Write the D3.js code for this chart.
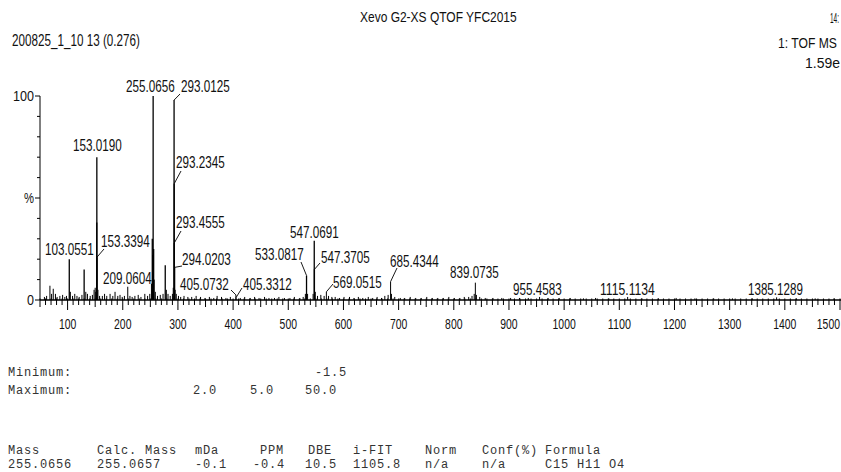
<!DOCTYPE html>
<html><head><meta charset="utf-8">
<script src="https://cdn.jsdelivr.net/npm/d3@7"></script>
<style>body{margin:0;background:#fff;overflow:hidden}svg{display:block}</style>
</head><body><svg id="c" width="841" height="472"></svg>
<script>
// ---------- DATA ----------
// spectrum peaks: [m/z, relative intensity %]
const peaks = [
 [58,1.5],[62,2],[68,7],[71,3],[74,5.5],[78,3],[81,1.5],[86,2],[91,2.5],[95,1.5],[98,2],
 [103.0551,20],[105,4],[109,2],[113,3],[117,2],[121,1.5],[126,2.5],[130,15],[133,4],[136,3],
 [141,2],[145,2.5],[148,5],[150,6],[151,4],[152.9,38],[153.0190,70],[153.3394,21],[155,5],
 [158,2],[163,2],[167,3],[171,2],[177,3],[182,2],[186,4],[191,2],[195,2.5],[199,1.5],[203,2],
 [209.0604,6.5],[213,2],[217,1.5],[222,2],[228,2.5],[233,1.5],[240,3],[245,2],[249,3],[252,8],
 [253.5,30],[254.2,22],[255.0656,100],[256,25],[257,10],[259,4],[263,2],[268,2.5],[273,3],
 [277,17],[279,5],[282,3],[286,2],[290,3],[291.5,6],[293.0125,98],[293.2345,57],[293.4555,28],
 [294.0203,16],[295,5],[297,3],[301,2],[305,1.5],[311,2],[318,1.5],[325,1.5],[333,2],[341,1.5],
 [349,1],[357,1.5],[365,1],[371,2],[379,1.5],[387,1],[395,1.5],[405.0732,2.5],[405.3312,1.2],
 [413,1],[421,1.5],[431,1],[439,1.5],[447,1],[457,1.5],[465,1],[475,1],[483,1.5],[493,1],
 [503,1],[511,1.5],[521,1],[527,1.5],[531,3],[533.0817,12],[535,3],[545,3],[547.0691,29],
 [547.3705,15],[549,4],[553,2],[559,2.5],[565,2],[569.0515,4],[573,2],[579,1.5],[585,1.5],
 [593,1],[601,1.5],[611,1.5],[619,1],[627,1.5],[635,1],[645,1.5],[653,1],[661,1.5],[669,1],
 [675,2],[681,2.5],[685.4344,9],[687,3],[693,1.5],[703,1],[711,1],[721,1.5],[731,1],[741,1],
 [751,1.5],[761,1],[771,1],[781,1],[791,1.5],[801,1],[811,1],[819,1.5],[827,1.5],[833,2],
 [837,3],[839.0735,8.5],[841,2.5],[847,1.5],[857,1],[871,1],[887,1],[903,1],[919,1],[935,1],
 [955.4583,1.5],[971,1],[991,1],[1011,1],[1035,0.8],[1057,1],[1081,0.8],[1115.1134,1.5],
 [1141,0.8],[1171,0.8],[1203,1],[1237,0.8],[1271,0.8],[1305,0.8],[1341,0.8],[1385.1289,1.3],
 [1421,0.8],[1455,0.8],[1489,0.8]
];
const labelTexts = ["103.0551","153.0190","153.3394","209.0604","255.0656","293.0125","293.2345","293.4555","294.0203","405.0732","405.3312","533.0817","547.0691","547.3705","569.0515","685.4344","839.0735","955.4583","1115.1134","1385.1289"];
const xTickValues = [100,200,300,400,500,600,700,800,900,1000,1100,1200,1300,1400,1500];
const yTickValues = [0,50,100];
const yTickLabels = ["0","%","100"];
const headerTexts = ["200825_1_10 13 (0.276)","Xevo G2-XS QTOF YFC2015","14:","1: TOF MS","1.59e"];
const limitRowNames = ["Minimum:","Maximum:"];
const limitMin = ["","","","","-1.5"];
const limitMax = ["","","2.0","5.0","50.0"];
const tableHeaders = ["Mass","Calc. Mass","mDa","PPM","DBE","i-FIT","Norm","Conf(%)","Formula"];
const tableRow = ["255.0656","255.0657","-0.1","-0.4","10.5","1105.8","n/a","n/a","C15 H11 O4"];

// ---------- LAYOUT ----------
const svg = d3.select("#c");
const W = 841, H = 472;
svg.append("rect").attr("width",W).attr("height",H).attr("fill","#fff");
const x = d3.scaleLinear().domain([50,1500]).range([40,840]);
const y = d3.scaleLinear().domain([0,100]).range([300,96]);
const SANS = "'Liberation Sans', Arial, sans-serif";
const MONO = "'Liberation Mono', 'DejaVu Sans Mono', monospace";

// condensed text: natural text horizontally scaled to width w
function ctext(g, str, px, py, w, size, anchor){
  const t = g.append("text").text(str)
    .attr("font-family",SANS).attr("font-size",size).attr("fill","#111")
    .attr("text-anchor",anchor||"start");
  const nat = t.node().getComputedTextLength() || w;
  t.attr("transform",`translate(${px},${py}) scale(${(w/nat).toFixed(4)},1)`);
  return t;
}

// header
const hdr = svg.append("g");
ctext(hdr, headerTexts[0], 12, 46, 128, 16);
ctext(hdr, headerTexts[1], 360, 22, 157, 14);
ctext(hdr, headerTexts[2], 830, 23, 9, 15);
ctext(hdr, headerTexts[3], 778, 48, 59, 15);
ctext(hdr, headerTexts[4], 805, 68, 35, 15);

// peaks
const pk = svg.append("g");
pk.selectAll("line").data(peaks).join("line")
  .attr("x1",d=>x(d[0])).attr("x2",d=>x(d[0]))
  .attr("y1",y(0)).attr("y2",d=>y(d[1]))
  .attr("stroke","#000").attr("stroke-width",d=>d[1]>10?1.3:1);

// y axis
const ax = svg.append("g").attr("stroke","#000").attr("fill","none");
ax.append("line").attr("x1",40).attr("x2",40).attr("y1",y(0)).attr("y2",y(100));
ax.selectAll(".yt").data(d3.range(0,101,10)).join("line")
  .attr("x1",d=>yTickValues.includes(d)?35:37).attr("x2",40)
  .attr("y1",d=>y(d)).attr("y2",d=>y(d));
const yLabW = {"0":7,"%":10,"100":21};
yTickValues.forEach((v,i)=>{
  const lab = yTickLabels[i];
  ctext(svg, lab, 34, y(v)+5, yLabW[lab], 14, "end");
});

// x axis
ax.append("line").attr("x1",40).attr("x2",841).attr("y1",y(0)).attr("y2",y(0)).attr("stroke-width",1.3);
ax.selectAll(".xt").data(d3.range(50,1501,10)).join("line")
  .attr("x1",d=>x(d)).attr("x2",d=>x(d))
  .attr("y1",y(0)-1.5)
  .attr("y2",d=>y(0)+(d%100===0?10:(d%50===0?7:5)));
xTickValues.forEach(v=>{
  const s = String(v), w = s.length*5.8;
  const cx = Math.min(x(v), W - 1 - w/2);
  ctext(svg, s, cx, 329, w, 14, "middle");
});

// peak labels: left x, baseline y, optional leader start
const labelLayout = {
  "103.0551":{lx:45,by:255},
  "153.0190":{lx:73,by:151},
  "153.3394":{lx:101,by:247,lead:[104,249]},
  "209.0604":{lx:103,by:284},
  "255.0656":{lx:126,by:92},
  "293.0125":{lx:181,by:92,lead:[180,94]},
  "293.2345":{lx:176,by:168,lead:[181,171]},
  "293.4555":{lx:176,by:228,lead:[181,231]},
  "294.0203":{lx:182,by:265,lead:[182,266]},
  "405.0732":{lx:180,by:290,lead:[231,290]},
  "405.3312":{lx:243,by:290,lead:[242,288]},
  "533.0817":{lx:255,by:260,lead:[301,262]},
  "547.0691":{lx:290,by:238},
  "547.3705":{lx:321,by:263,lead:[320,263]},
  "569.0515":{lx:333,by:288,lead:[333,284]},
  "685.4344":{lx:390,by:267,lead:[397,268]},
  "839.0735":{lx:450,by:278},
  "955.4583":{lx:513,by:295},
  "1115.1134":{lx:600,by:295},
  "1385.1289":{lx:748,by:295}
};
const lg = svg.append("g");
labelTexts.forEach(t=>{
  const m = +t;
  const p = peaks.find(d=>d[0]===m);
  const L = labelLayout[t];
  ctext(lg, t, L.lx, L.by, t.length*6.1, 16);
  if(L.lead && p){
    lg.append("line").attr("x1",L.lead[0]).attr("y1",L.lead[1])
      .attr("x2",x(p[0])).attr("y2",y(p[1]))
      .attr("stroke","#000").attr("stroke-width",0.9);
  }
});

// bottom table (monospace, 8px character pitch)
const tb = svg.append("g").attr("font-family",MONO).attr("font-size",12)
  .attr("letter-spacing",0.8).attr("fill","#333");
const limitX = [8,97,193,250,315];
const limitX2 = [8,97,193,250,305];
tb.append("text").attr("x",8).attr("y",376).text(limitRowNames[0]);
tb.append("text").attr("x",8).attr("y",394).text(limitRowNames[1]);
limitMin.forEach((s,i)=>{ if(s) tb.append("text").attr("x",limitX[i]).attr("y",376).text(s); });
limitMax.forEach((s,i)=>{ if(s) tb.append("text").attr("x",limitX2[i]).attr("y",394).text(s); });
const colX = [8,97,195,260,308,353,425,482,545];
const rowX = [8,97,195,253,305,353,425,482,545];
tableHeaders.forEach((s,i)=>tb.append("text").attr("x",colX[i]).attr("y",454).text(s));
tableRow.forEach((s,i)=>tb.append("text").attr("x",rowX[i]).attr("y",468).text(s));
</script></body></html>
